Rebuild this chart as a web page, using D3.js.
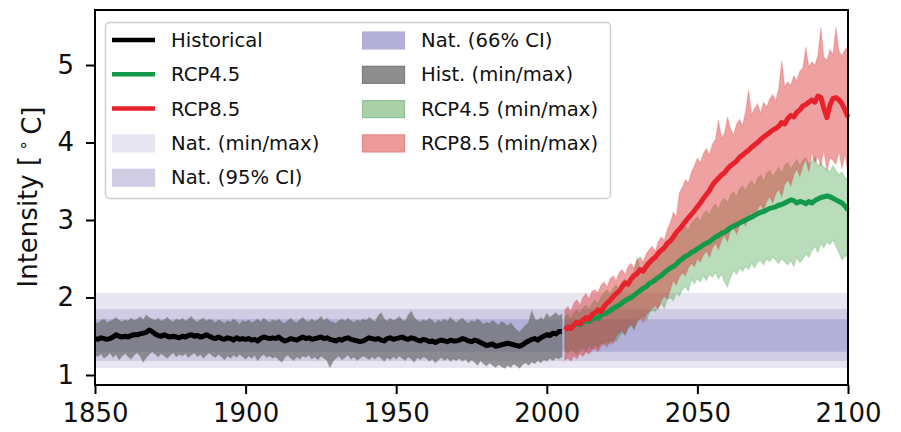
<!DOCTYPE html>
<html>
<head>
<meta charset="utf-8">
<script src="https://cdn.jsdelivr.net/npm/d3@7"></script>
<style>
  body { margin: 0; background: #fff; }
  svg { font-family: "DejaVu Sans", sans-serif; }
</style>
</head>
<body>
<div id="vis"></div>
<script>
// annual series
const histStart = 1850;
const futStart = 2006;

const histMean = [
  1.47,1.46,1.48,1.47,1.46,1.47,1.49,1.52,1.50,1.49,
  1.50,1.49,1.51,1.52,1.52,1.53,1.54,1.55,1.58,1.56,
  1.53,1.51,1.50,1.52,1.50,1.49,1.50,1.49,1.48,1.50,
  1.49,1.51,1.52,1.50,1.51,1.49,1.50,1.52,1.50,1.48,
  1.47,1.49,1.47,1.46,1.48,1.47,1.45,1.48,1.46,1.47,
  1.46,1.47,1.45,1.46,1.44,1.47,1.49,1.48,1.47,1.48,
  1.47,1.49,1.46,1.44,1.45,1.47,1.46,1.45,1.47,1.49,
  1.47,1.48,1.46,1.47,1.48,1.49,1.47,1.48,1.46,1.45,
  1.44,1.46,1.45,1.47,1.48,1.46,1.45,1.44,1.43,1.44,
  1.46,1.48,1.47,1.46,1.47,1.45,1.44,1.47,1.48,1.46,
  1.47,1.48,1.49,1.47,1.46,1.48,1.47,1.45,1.44,1.46,
  1.45,1.43,1.44,1.42,1.44,1.45,1.44,1.43,1.45,1.44,
  1.44,1.45,1.47,1.46,1.44,1.43,1.45,1.44,1.42,1.40,
  1.38,1.39,1.40,1.37,1.38,1.39,1.40,1.41,1.40,1.39,
  1.38,1.37,1.39,1.42,1.44,1.46,1.47,1.45,1.48,1.50,
  1.52,1.51,1.54,1.53,1.56,1.56
];
const histMax = [
  1.68,1.66,1.70,1.72,1.67,1.69,1.71,1.74,1.70,1.68,
  1.71,1.69,1.73,1.70,1.72,1.75,1.71,1.77,1.74,1.72,
  1.70,1.73,1.69,1.71,1.74,1.70,1.68,1.72,1.70,1.73,
  1.69,1.72,1.75,1.70,1.68,1.71,1.73,1.69,1.72,1.70,
  1.67,1.71,1.69,1.66,1.70,1.68,1.72,1.69,1.65,1.70,
  1.68,1.71,1.67,1.69,1.72,1.68,1.73,1.70,1.67,1.71,
  1.69,1.72,1.68,1.66,1.70,1.73,1.69,1.67,1.71,1.74,
  1.70,1.68,1.72,1.69,1.71,1.75,1.70,1.73,1.69,1.68,
  1.66,1.70,1.72,1.69,1.73,1.70,1.67,1.71,1.69,1.72,
  1.70,1.74,1.71,1.68,1.76,1.80,1.72,1.69,1.73,1.70,
  1.72,1.75,1.71,1.69,1.77,1.82,1.74,1.70,1.68,1.71,
  1.69,1.73,1.70,1.66,1.71,1.68,1.72,1.69,1.74,1.70,
  1.67,1.71,1.73,1.69,1.66,1.70,1.68,1.72,1.69,1.65,
  1.68,1.66,1.70,1.67,1.64,1.69,1.66,1.63,1.67,1.62,
  1.58,1.55,1.60,1.64,1.68,1.82,1.72,1.70,1.74,1.71,
  1.79,1.74,1.77,1.80,1.76,1.78
];
const histMin = [
  1.26,1.24,1.28,1.22,1.25,1.29,1.23,1.27,1.20,1.25,
  1.28,1.24,1.21,1.26,1.29,1.25,1.17,1.23,1.27,1.30,
  1.27,1.24,1.28,1.25,1.22,1.26,1.29,1.24,1.27,1.25,
  1.28,1.23,1.26,1.29,1.24,1.27,1.22,1.26,1.29,1.25,
  1.23,1.27,1.24,1.20,1.25,1.22,1.26,1.23,1.27,1.24,
  1.21,1.25,1.22,1.26,1.19,1.24,1.27,1.23,1.25,1.22,
  1.24,1.20,1.17,1.23,1.26,1.22,1.19,1.24,1.21,1.25,
  1.23,1.26,1.21,1.24,1.20,1.25,1.22,1.19,1.10,1.18,
  1.22,1.25,1.20,1.23,1.26,1.21,1.24,1.19,1.22,1.25,
  1.23,1.20,1.24,1.21,1.25,1.22,1.18,1.23,1.20,1.24,
  1.21,1.25,1.22,1.19,1.24,1.21,1.17,1.23,1.20,1.24,
  1.22,1.18,1.21,1.16,1.20,1.23,1.19,1.22,1.18,1.21,
  1.19,1.22,1.18,1.21,1.16,1.20,1.17,1.13,1.19,1.15,
  1.12,1.16,1.13,1.10,1.14,1.11,1.09,1.13,1.10,1.15,
  1.12,1.09,1.14,1.16,1.13,1.17,1.15,1.19,1.16,1.20,
  1.18,1.22,1.19,1.23,1.21,1.24
];

const rcp85Mean = [
  1.58,1.62,1.60,1.65,1.68,1.66,1.71,1.74,1.72,1.78,
  1.80,1.84,1.82,1.88,1.93,1.96,2.01,2.05,2.08,2.14,
  2.19,2.17,2.24,2.28,2.31,2.36,2.34,2.40,2.45,2.49,
  2.52,2.57,2.61,2.64,2.70,2.73,2.78,2.84,2.88,2.93,
  2.98,3.03,3.07,3.12,3.17,3.22,3.28,3.33,3.38,3.45,
  3.50,3.54,3.58,3.61,3.66,3.70,3.73,3.76,3.81,3.84,
  3.87,3.90,3.94,3.97,4.00,4.04,4.07,4.10,4.13,4.16,
  4.18,4.21,4.26,4.24,4.31,4.35,4.33,4.39,4.42,4.47,
  4.49,4.52,4.55,4.52,4.60,4.58,4.44,4.32,4.48,4.57,
  4.58,4.55,4.50,4.42,4.33
];
const rcp85Max = [
  1.84,1.88,1.82,1.93,1.97,1.90,2.00,2.05,1.98,2.08,
  2.10,2.06,2.16,2.20,2.14,2.24,2.28,2.22,2.32,2.36,
  2.30,2.40,2.44,2.38,2.48,2.52,2.46,2.56,2.62,2.66,
  2.60,2.72,2.78,2.74,2.88,2.96,3.10,3.04,3.35,3.42,
  3.52,3.48,3.62,3.70,3.80,3.74,3.86,3.92,3.84,3.98,
  4.04,4.29,4.06,4.12,4.33,4.18,4.10,4.24,4.30,4.22,
  4.40,4.68,4.36,4.44,4.50,4.38,4.52,4.46,4.56,4.62,
  4.54,4.70,5.06,4.72,4.78,4.74,4.86,4.80,4.92,4.96,
  5.23,4.98,5.04,5.00,5.12,5.49,5.10,5.06,5.20,5.14,
  5.49,5.18,5.12,5.20,5.23
];
const rcp85Min = [
  1.19,1.22,1.18,1.25,1.21,1.28,1.24,1.30,1.27,1.32,
  1.35,1.30,1.38,1.42,1.36,1.45,1.40,1.50,1.54,1.58,
  1.52,1.62,1.66,1.60,1.70,1.74,1.68,1.78,1.82,1.86,
  1.90,1.85,1.96,2.02,1.98,2.10,2.22,2.16,2.26,2.32,
  2.28,2.38,2.44,2.40,2.50,2.46,2.55,2.60,2.52,2.64,
  2.70,2.62,2.74,2.80,2.72,2.86,2.90,2.82,2.94,3.00,
  2.92,3.04,3.10,3.02,3.14,3.20,3.12,3.24,3.30,3.22,
  3.34,3.40,3.30,3.46,3.52,3.44,3.58,3.66,3.56,3.70,
  3.78,3.62,3.86,3.74,3.82,3.70,3.90,3.64,3.80,3.77,
  3.72,3.88,3.66,3.84,3.60
];

const rcp45Mean = [
  1.60,1.62,1.61,1.64,1.66,1.65,1.68,1.70,1.69,1.72,
  1.74,1.73,1.77,1.79,1.80,1.83,1.86,1.88,1.90,1.93,
  1.96,1.98,2.00,2.03,2.06,2.09,2.12,2.14,2.18,2.20,
  2.23,2.26,2.28,2.32,2.35,2.38,2.40,2.43,2.47,2.50,
  2.53,2.55,2.58,2.60,2.63,2.65,2.68,2.70,2.72,2.75,
  2.78,2.80,2.83,2.84,2.87,2.90,2.92,2.94,2.96,2.98,
  3.00,3.02,3.04,3.06,3.08,3.10,3.11,3.13,3.15,3.16,
  3.17,3.19,3.20,3.22,3.24,3.26,3.25,3.22,3.24,3.23,
  3.21,3.24,3.22,3.25,3.27,3.29,3.30,3.31,3.30,3.28,
  3.26,3.24,3.22,3.18,3.13
];
const rcp45Max = [
  1.74,1.78,1.72,1.80,1.84,1.79,1.86,1.90,1.85,1.92,
  1.96,1.92,2.00,2.06,2.10,2.04,2.12,2.16,2.10,2.20,
  2.24,2.18,2.30,2.34,2.52,2.36,2.40,2.46,2.42,2.52,
  2.56,2.50,2.62,2.66,2.72,2.68,2.78,2.84,2.80,2.88,
  2.92,2.86,2.96,3.00,3.04,2.98,3.08,3.12,3.06,3.16,
  3.20,3.14,3.24,3.28,3.22,3.32,3.36,3.30,3.40,3.44,
  3.38,3.46,3.50,3.44,3.54,3.58,3.50,3.60,3.64,3.56,
  3.62,3.68,3.60,3.70,3.74,3.66,3.72,3.78,3.70,3.77,
  3.80,3.72,3.76,3.82,3.70,3.74,3.68,3.66,3.62,3.70,
  3.64,3.58,3.62,3.55,3.52
];
const rcp45Min = [
  1.32,1.28,1.34,1.30,1.26,1.33,1.36,1.31,1.38,1.34,
  1.40,1.36,1.42,1.38,1.44,1.40,1.46,1.43,1.50,1.55,
  1.52,1.60,1.64,1.58,1.68,1.72,1.76,1.70,1.80,1.84,
  1.82,1.88,1.92,1.86,1.97,2.00,1.96,2.06,2.02,2.10,
  2.14,2.08,2.23,2.18,2.24,2.20,2.28,2.22,2.30,2.26,
  2.32,2.24,2.30,2.20,2.14,2.26,2.35,2.30,2.38,2.34,
  2.40,2.36,2.44,2.38,2.46,2.48,2.42,2.50,2.46,2.52,
  2.48,2.44,2.50,2.46,2.42,2.48,2.40,2.52,2.45,2.50,
  2.56,2.52,2.60,2.66,2.58,2.70,2.64,2.72,2.68,2.74,
  2.66,2.58,2.48,2.54,2.52
];

// natural variability bands [low, high]
const natMinMax = [1.09, 2.06];
const nat95 = [1.18, 1.85];
const nat66 = [1.30, 1.72];

const xTicks = [1850, 1900, 1950, 2000, 2050, 2100];
const yTicks = [1, 2, 3, 4, 5];

const W = 901, H = 432;
const margin = { top: 10, right: 53, bottom: 47, left: 95 };
const innerW = W - margin.left - margin.right;
const innerH = H - margin.top - margin.bottom;

const svg = d3.select("#vis").append("svg")
  .attr("width", W).attr("height", H);
const g = svg.append("g")
  .attr("transform", `translate(${margin.left},${margin.top})`);

const x = d3.scaleLinear().domain([1850, 2100]).range([0, innerW]);
const y = d3.scaleLinear().domain([0.871, 5.71]).range([innerH, 0]);

const toRows = (start, lo, hi, mid) =>
  mid.map((v, i) => ({ year: start + i, lo: lo[i], hi: hi[i], mid: v }));
const hist = toRows(histStart, histMin, histMax, histMean);
const r45 = toRows(futStart, rcp45Min, rcp45Max, rcp45Mean);
const r85 = toRows(futStart, rcp85Min, rcp85Max, rcp85Mean);

const colNatMM = "#e8e6f1", colNat95 = "#cfcce3", colNat66 = "#b2b0d8";

// nat bands
[[natMinMax, colNatMM], [nat95, colNat95], [nat66, colNat66]].forEach(([b, c]) => {
  g.append("rect")
    .attr("x", x(1850)).attr("width", x(2100) - x(1850))
    .attr("y", y(b[1])).attr("height", y(b[0]) - y(b[1]))
    .attr("fill", c);
});

const area = d3.area().x(d => x(d.year)).y0(d => y(d.lo)).y1(d => y(d.hi));
const line = d3.line().x(d => x(d.year)).y(d => y(d.mid));

g.append("path").datum(hist).attr("d", area)
  .attr("fill", "#6a6a6a").attr("fill-opacity", 0.68)
  .attr("stroke", "#6a6a6a").attr("stroke-opacity", 0.3).attr("stroke-width", 1.5);
g.append("path").datum(r45).attr("d", area)
  .attr("fill", "#188a1e").attr("fill-opacity", 0.3)
  .attr("stroke", "#188a1e").attr("stroke-opacity", 0.15).attr("stroke-width", 1.5);
g.append("path").datum(r85).attr("d", area)
  .attr("fill", "#d92426").attr("fill-opacity", 0.43)
  .attr("stroke", "#d92426").attr("stroke-opacity", 0.15).attr("stroke-width", 1.5);

const lineStyle = (sel, c) => sel.attr("fill", "none").attr("stroke", c)
  .attr("stroke-width", 5).attr("stroke-linejoin", "round");
g.append("path").datum(hist).attr("d", line).call(lineStyle, "#000");
g.append("path").datum(r45).attr("d", line).call(lineStyle, "#12994a");
g.append("path").datum(r85).attr("d", line).call(lineStyle, "#e8222a");

// axes
const xAxis = g.append("g").attr("transform", `translate(0,${innerH})`)
  .call(d3.axisBottom(x).tickValues(xTicks).tickFormat(d3.format("d"))
    .tickSize(9).tickSizeOuter(0).tickPadding(10));
const yAxis = g.append("g")
  .call(d3.axisLeft(y).tickValues(yTicks).tickFormat(d3.format("d"))
    .tickSize(9).tickSizeOuter(0).tickPadding(12));
[xAxis, yAxis].forEach(a => {
  a.select(".domain").remove();
  a.selectAll(".tick line").attr("stroke", "#000").attr("stroke-width", 2);
  a.selectAll(".tick text").attr("fill", "#111")
    .style("font-size", "26px").style("font-family", "DejaVu Sans");
});

// frame
g.append("rect").attr("width", innerW).attr("height", innerH)
  .attr("fill", "none").attr("stroke", "#000").attr("stroke-width", 2);

// y label
const yl = svg.append("text")
  .attr("transform", "translate(37,197) rotate(-90)")
  .attr("text-anchor", "middle")
  .style("font-size", "26px").attr("fill", "#111");
yl.append("tspan").text("Intensity [\u2009");
yl.append("tspan").attr("dy", "-0.45em").style("font-size", "17px").text("\u2218");
yl.append("tspan").attr("dy", "0.45em").text("\u2009C]");

// legend
const legItems = [
  { label: "Historical", type: "line", color: "#000" },
  { label: "RCP4.5", type: "line", color: "#12994a" },
  { label: "RCP8.5", type: "line", color: "#e8222a" },
  { label: "Nat. (min/max)", type: "patch", color: colNatMM, edge: colNatMM },
  { label: "Nat. (95% CI)", type: "patch", color: colNat95, edge: colNat95 },
  { label: "Nat. (66% CI)", type: "patch", color: colNat66, edge: colNat66 },
  { label: "Hist. (min/max)", type: "patch", color: "#8e8e8e", edge: "#7a7a7a" },
  { label: "RCP4.5 (min/max)", type: "patch", color: "#a9d0a9", edge: "#92c492" },
  { label: "RCP8.5 (min/max)", type: "patch", color: "#ec9a9b", edge: "#e38788" }
];
const leg = svg.append("g");
leg.append("rect").attr("x", 105.5).attr("y", 22.5).attr("width", 505).attr("height", 176)
  .attr("rx", 4).attr("fill", "#fff").attr("fill-opacity", 0.85)
  .attr("stroke", "#cfcfcf").attr("stroke-width", 1.5);
legItems.forEach((d, i) => {
  const col = i < 5 ? 0 : 1;
  const row = i < 5 ? i : i - 5;
  const hx = col === 0 ? 112 : 362;
  const cy = 40 + row * 34.3;
  if (d.type === "line") {
    leg.append("line").attr("x1", hx).attr("x2", hx + 43).attr("y1", cy).attr("y2", cy)
      .attr("stroke", d.color).attr("stroke-width", 4.5);
  } else {
    leg.append("rect").attr("x", hx + 0.5).attr("y", cy - 8).attr("width", 42).attr("height", 17)
      .attr("fill", d.color).attr("stroke", d.edge).attr("stroke-width", 1.2);
  }
  leg.append("text").attr("x", hx + 59).attr("y", cy + 7)
    .style("font-size", "19.6px").attr("fill", "#111").text(d.label);
});
</script>
</body>
</html>
